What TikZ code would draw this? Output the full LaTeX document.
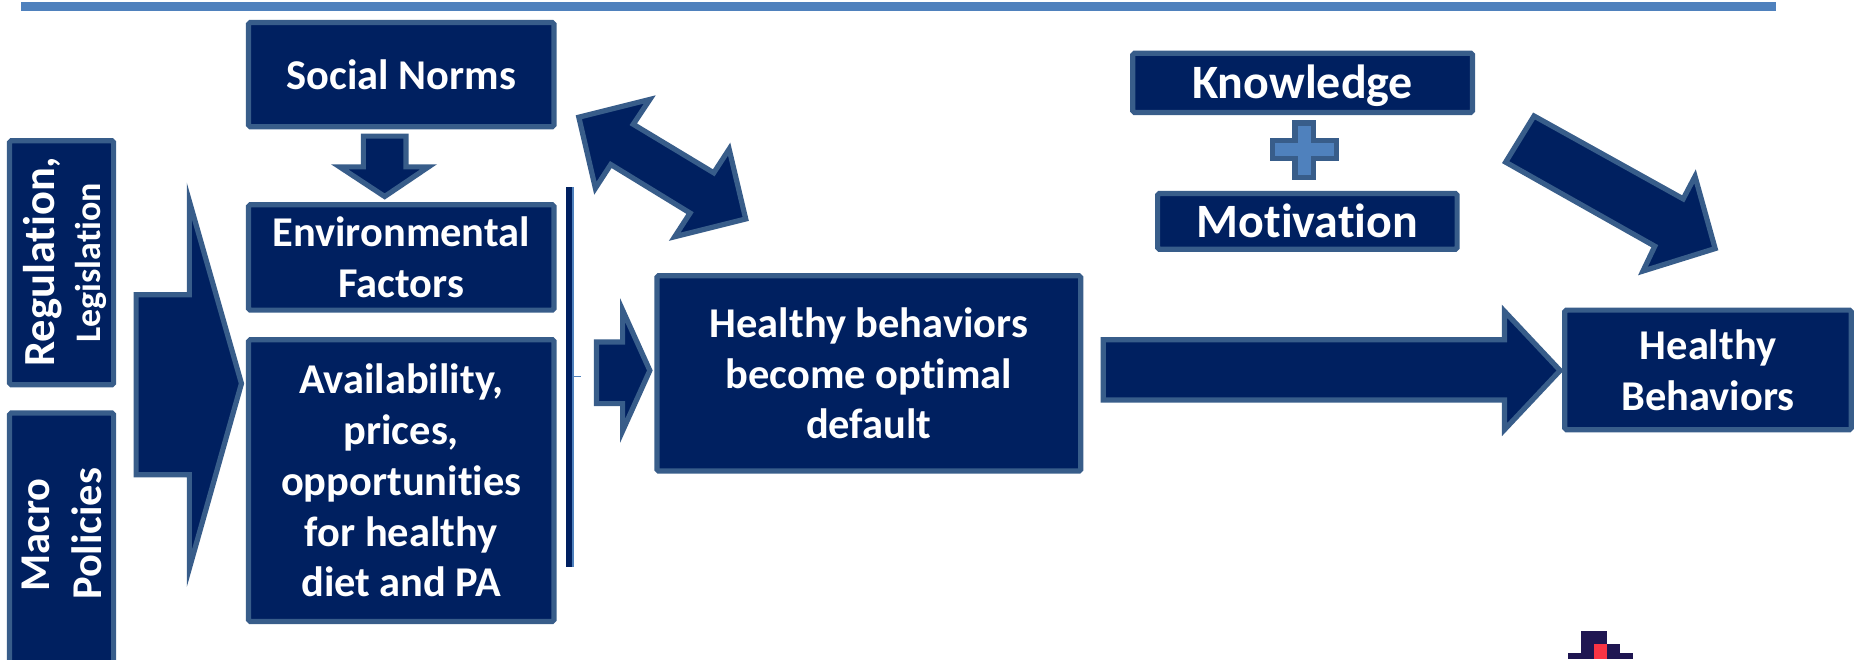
\documentclass[tikz,border=0pt]{standalone}
\usepackage{fontspec}
\setmainfont[Ligatures=NoCommon]{Carlito}
\usetikzlibrary{positioning}
\definecolor{navy}{HTML}{002060}
\definecolor{edgeblue}{HTML}{385D8A}
\definecolor{barblue}{HTML}{4F81BD}
\definecolor{logodark}{HTML}{1F1652}
\definecolor{logored}{HTML}{F93444}

\begin{document}
\begin{tikzpicture}[
    x=0.025cm, y=-0.025cm,
    navybox/.style={draw=edgeblue, fill=navy, line width=0.11cm, rounded corners=1pt, text=white,
        font=\fontsize{25.5}{30.5}\selectfont\bfseries, align=center, inner sep=0pt, outer sep=0pt},
    sidetext/.style={white, font=\fontsize{25.5}{30}\selectfont\bfseries, rotate=90, anchor=base, inner sep=0pt},
    blockarrow/.style={draw=edgeblue, fill=navy, line width=0.11cm, miter limit=12}
]
    \useasboundingbox (0,0) rectangle (1568,557);
    % Top rule
    \fill[barblue] (18,2) rectangle (1500,9);

    % Left column, rotated text
    \node[navybox, minimum width=0.025cm*88, minimum height=0.025cm*206] (regulation) at (52,222) {};
    \node[sidetext, font=\fontsize{26.7}{30}\selectfont\bfseries] (regulationtext) at (46,221) {Regulation,};
    \node[sidetext, font=\fontsize{21.6}{26}\selectfont\bfseries] (legislationtext) at (85,222) {Legislation};
    \begin{scope}
        \clip (0,0) rectangle (1568,557);
        \node[navybox, minimum width=0.025cm*88, minimum height=0.025cm*240] (macro) at (52,469) {};
    \end{scope}
    \node[sidetext] (macrotext) at (42,452) {Macro};
    \node[sidetext] (policiestext) at (86,451) {Policies};

    % Big arrow into the middle column
    \draw[blockarrow] (115,249) -- (160,249) -- (160,170) -- (204,324) -- (160,480) -- (160,401) -- (115,401) -- cycle;

    % Middle column
    \node[navybox, minimum width=0.025cm*258, minimum height=0.025cm*88] (social) at (339,63) {Social Norms};
    \node[navybox, minimum width=0.025cm*258, minimum height=0.025cm*89] (environment) at (339,217.5) {Environmental\\Factors};
    \node[navybox, minimum width=0.025cm*258, minimum height=0.025cm*238] (availability) at (339,406) {Availability,\\prices,\\opportunities\\for healthy\\diet and PA};
    \draw[blockarrow] (307,115) -- (343,115) -- (343,141) -- (362,141) -- (325,166) -- (287,141) -- (307,141) -- cycle;

    % Vertical bar and its tick
    \fill[navy] (478,158) rectangle (484,479);
    \draw[barblue, line width=0.03cm] (484,158) -- (484,479);
    \draw[barblue, line width=0.03cm] (484,318) -- (491,318);

    % Double arrow
    \draw[blockarrow] (489,99) -- (549,84) -- (535,105) -- (603,146) -- (616,126) -- (630,185) -- (570,200) -- (583,180) -- (516,139) -- (503,159) -- cycle;

    % Small arrow
    \draw[blockarrow] (504,289) -- (526,289) -- (526,262) -- (549,313) -- (526,364) -- (526,341) -- (504,341) -- cycle;

    % Centre and right
    \node[navybox, minimum width=0.025cm*358, minimum height=0.025cm*165] (default) at (734,315.5) {Healthy behaviors\\become optimal\\default};
    \draw[blockarrow] (932,287) -- (1271,287) -- (1271,263) -- (1318,313) -- (1271,363) -- (1271,338) -- (932,338) -- cycle;
    \node[navybox, minimum width=0.025cm*242, minimum height=0.025cm*101] (behaviors) at (1443,312.5) {Healthy\\Behaviors};
    \node[navybox, minimum width=0.025cm*287, minimum height=0.025cm*50, text depth=1.5pt, font=\fontsize{28.8}{34}\selectfont\bfseries] (knowledge) at (1100.5,70) {Knowledge};
    \node[navybox, minimum width=0.025cm*253, minimum height=0.025cm*47, font=\fontsize{28.8}{34}\selectfont\bfseries] (motivation) at (1104.5,187) {Motivation};
    \draw[draw=edgeblue, fill=barblue, line width=0.11cm] (1094,104) -- (1110,104) -- (1110,119) -- (1129,119) -- (1129,134) -- (1110,134) -- (1110,150) -- (1094,150) -- (1094,134) -- (1075,134) -- (1075,119) -- (1094,119) -- cycle;
    \draw[blockarrow] (1296,98) -- (1422,168) -- (1432,149) -- (1449,210) -- (1388,229) -- (1398,208) -- (1272,137) -- cycle;

    % Logo, cut off by the lower edge
    \begin{scope}
        \clip (0,0) rectangle (1568,557);
        \fill[logodark] (1336,533) rectangle (1358,557);
        \fill[logodark] (1325,552) rectangle (1336,557);
        \fill[logored] (1347,544) rectangle (1358,557);
        \fill[logodark] (1358,544) rectangle (1369,557);
        \fill[logodark] (1369,552) rectangle (1380,557);
    \end{scope}
\end{tikzpicture}
\end{document}
